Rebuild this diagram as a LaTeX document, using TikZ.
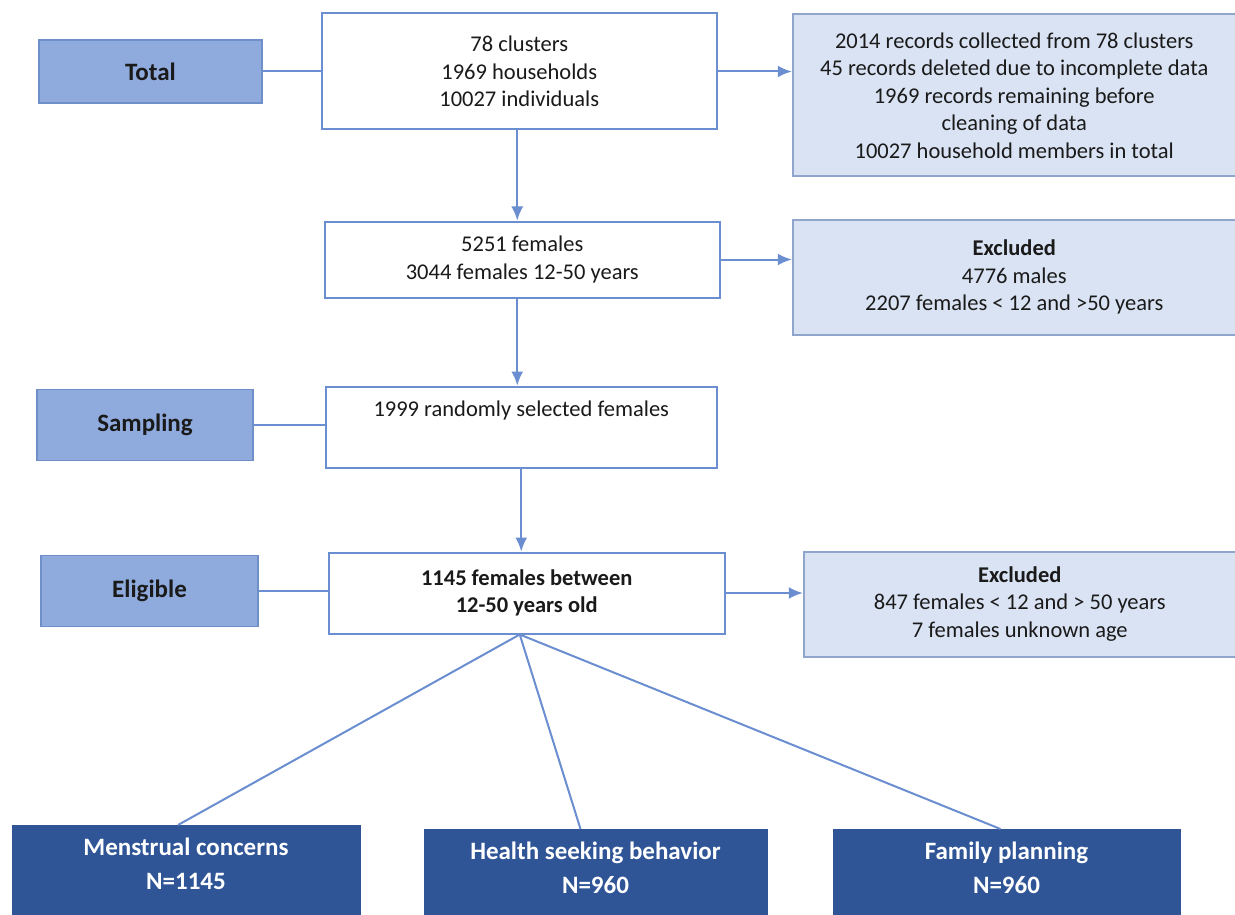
\documentclass[tikz,border=0pt]{standalone}
\usepackage{fontspec}
\setmainfont{Carlito}
\usetikzlibrary{arrows.meta, positioning}
\definecolor{mlight}{HTML}{8FAADC}
\definecolor{medge}{HTML}{6F8FC8}
\definecolor{mpale}{HTML}{DAE3F3}
\definecolor{mpaleedge}{HTML}{8FA5CB}
\definecolor{mdark}{HTML}{2F5597}
\definecolor{mline}{HTML}{6A8ED0}
\definecolor{mtext}{HTML}{1A1A1A}
\tikzstyle{stage} = [rectangle, minimum width=218pt, minimum height=68pt, text centered, font=\fontsize{25}{28}\selectfont\bfseries, fill=mlight, draw=medge, line width=1.5pt]
\tikzstyle{stepbox} = [rectangle, minimum width=395pt, text centered, fill=white, draw=mline, line width=2pt]
\tikzstyle{note} = [rectangle, minimum width=443pt, text centered, fill=mpale, draw=mpaleedge, line width=2pt]
\tikzstyle{outcome} = [rectangle, minimum width=348pt, anchor=north, inner ysep=13pt, text depth=70pt, text=white, font=\fontsize{25}{34}\selectfont\bfseries, fill=mdark, draw=mdark]
\tikzstyle{link} = [draw=mline, line width=2pt]
\tikzstyle{flow} = [link, -{Latex[length=14pt, width=12pt]}]

\begin{document}
\begin{tikzpicture}[x=1pt, y=1pt, align=center, text=mtext, font=\fontsize{22.5}{27.5}\selectfont]
\useasboundingbox (0,0) rectangle (1235,-915);
%Flow Column
\node (total) [stage, minimum width=223pt, minimum height=63pt] at (150.5,-71.5) {Total};
\node (all) [stepbox, minimum height=116pt, right=58pt of total] {78 clusters\\1969 households\\10027 individuals};
\node (records) [note, minimum height=162pt, anchor=north west] at ([xshift=74pt, yshift=-1pt]all.north east) {2014 records collected from 78 clusters\\45 records deleted due to incomplete data\\1969 records remaining before\\cleaning of data\\10027 household members in total};
\node (females) [stepbox, minimum height=76pt, below=90pt of all, xshift=3pt] {5251 females\\3044 females 12-50 years};
\node (excl1) [note, minimum height=115pt, anchor=north west] at ([xshift=71pt, yshift=2pt]females.north east) {\textbf{Excluded}\\4776 males\\2207 females < 12 and >50 years};
\node (random) [stepbox, minimum width=391pt, minimum height=81pt, below=87pt of females, xshift=-1pt] {1999 randomly selected females\\ \strut};
\node (sampling) [stage, minimum width=216pt, minimum height=71pt, left=71pt of random, yshift=2pt] {Sampling};
\node (elig) [stepbox, minimum width=396pt, minimum height=81pt, below=83pt of random, xshift=5.5pt] {\textbf{1145 females between}\\\textbf{12-50 years old}};
\node (eligible) [stage, minimum width=217pt, minimum height=71pt, left=69pt of elig, yshift=2pt] {Eligible};
\node (excl2) [note, minimum width=432pt, minimum height=105pt, anchor=north west] at ([xshift=77pt, yshift=1pt]elig.north east) {\textbf{Excluded}\\847 females < 12 and > 50 years\\7 females unknown age};
%Outcomes
\node (menses) [outcome] at (186,-825) {Menstrual concerns\\N=1145};
\node (health) [outcome, minimum width=343pt] at (595.5,-829) {Health seeking behavior\\N=960};
\node (planning) [outcome, minimum width=347pt] at (1006.5,-829) {Family planning\\N=960};
\draw [link] (total) -- (all);
\draw [flow] (all.east) -- (all.east -| records.west);
\draw [flow] ([xshift=-2pt]all.south) -- ([xshift=-2pt]all.south |- females.north);
\draw [flow] (females.east) -- (females.east -| excl1.west);
\draw [flow] ([xshift=-5pt]females.south) -- ([xshift=-5pt]females.south |- random.north);
\draw [link] (sampling.east) -- (sampling.east -| random.west);
\draw [flow] (random.south) -- (random.south |- elig.north);
\draw [link] (eligible.east) -- (eligible.east -| elig.west);
\draw [flow] (elig.east) -- (elig.east -| excl2.west);
\draw [link] ([xshift=-7pt]elig.south) -- ([xshift=-8pt]menses.north);
\draw [link] ([xshift=-7pt]elig.south) -- ([xshift=-15pt]health.north);
\draw [link] ([xshift=-7pt]elig.south) -- ([xshift=-6pt]planning.north);
\end{tikzpicture}
\end{document}
